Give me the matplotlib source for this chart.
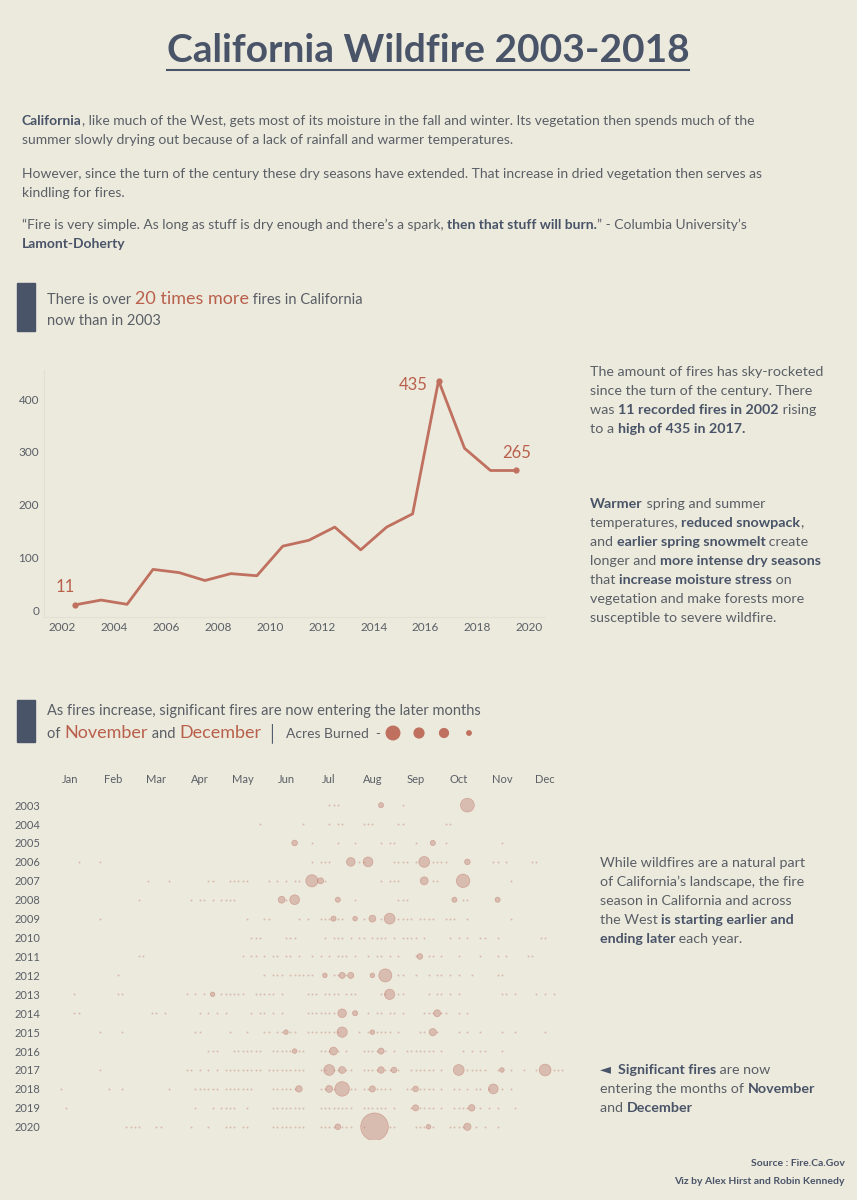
import matplotlib.pyplot as plt
import numpy as np
from matplotlib.patches import Rectangle

plt.rcParams['font.family'] = ['Lato', 'DejaVu Sans']

BG = '#ECEADD'
DARK = '#4A5468'
TXT = '#5A5F66'
ACC = '#B9604C'
LINE = '#C0705F'
DOT = '#C4847A'

# ---- data: fires per year (line chart)
years = [2002, 2003, 2004, 2005, 2006, 2007, 2008, 2009, 2010,
         2011, 2012, 2013, 2014, 2015, 2016, 2017, 2018, 2019]
fires = [11, 20, 12, 78, 72, 57, 70, 66, 122,
         133, 158, 115, 158, 183, 435, 307, 265, 265]

# ---- data: significant fires, position in month units (1=Jan), small ones
small_fires = {
    2003: [7.0, 7.1, 7.2, 8.7],
    2004: [5.4, 6.4, 7.0, 7.2, 7.3, 7.8, 7.9, 8.0, 8.6, 8.7, 9.7, 9.8],
    2005: [6.6, 7.2, 7.6, 8.2, 8.4, 8.5, 9.0, 9.7, 11.0],
    2006: [1.2, 1.7, 6.6, 6.8, 6.9, 7.0, 7.7, 7.8, 8.5, 8.6, 8.7, 8.8, 9.0,
           9.4, 9.5, 9.6, 9.7, 10.8, 10.9, 11.1, 11.7, 11.8],
    2007: [2.8, 3.3, 4.2, 4.3, 4.7, 4.8, 4.9, 5.0, 5.1, 5.6, 5.8, 6.0, 6.2,
           6.3, 6.9, 8.2, 8.4, 8.5, 8.6, 9.4, 9.5, 11.2],
    2008: [2.6, 3.8, 4.0, 4.1, 4.3, 4.5, 4.6, 4.7, 4.8, 6.0, 7.6, 8.6, 8.7,
           8.8, 10.1, 10.2],
    2009: [1.7, 5.1, 5.5, 5.6, 6.3, 6.5, 6.8, 6.9, 7.0, 7.2, 7.3, 7.8, 8.2,
           8.6, 8.7, 8.8, 8.9, 9.1, 9.2, 9.3, 9.4, 9.7, 9.8, 9.9, 10.2, 11.2],
    2010: [5.2, 5.3, 5.4, 6.0, 6.1, 6.2, 6.9, 7.1, 7.2, 7.3, 7.5, 7.7, 7.8,
           8.0, 8.1, 8.2, 8.3, 8.5, 8.7, 8.8, 8.9, 9.0, 9.2, 9.8, 10.0,
           10.2, 10.5, 10.6, 10.9, 11.9, 12.0],
    2011: [2.6, 2.7, 5.0, 5.2, 5.3, 5.5, 5.7, 5.8, 6.0, 6.1, 6.3, 6.6, 6.8,
           7.0, 7.2, 7.3, 7.4, 7.6, 7.9, 8.1, 8.2, 8.4, 8.6, 9.0, 9.3, 9.4,
           9.6, 10.0, 10.5, 10.9, 11.1, 11.6, 11.7],
    2012: [2.1, 5.5, 5.7, 5.8, 5.9, 6.1, 6.2, 6.3, 6.4, 6.5, 6.6, 7.1, 7.2,
           7.4, 8.6, 8.7, 9.0, 9.3, 9.5, 9.6, 9.8, 10.0, 10.3, 10.9, 11.0],
    2013: [1.1, 2.1, 2.2, 3.7, 3.9, 4.1, 4.5, 4.6, 4.7, 4.8, 4.9, 5.0, 5.3,
           5.4, 5.5, 5.6, 5.7, 5.9, 6.5, 6.6, 6.7, 6.9, 7.0, 7.1, 7.2, 7.4,
           7.5, 7.6, 8.2, 8.3, 8.6, 8.7, 9.3, 9.5, 9.6, 9.8, 10.0, 11.0,
           11.1, 11.3, 11.8, 12.0, 12.2],
    2014: [1.1, 1.2, 2.9, 3.0, 3.2, 4.0, 4.2, 4.4, 4.6, 5.2, 5.4, 5.5, 5.7,
           5.9, 6.5, 6.6, 6.7, 6.8, 6.9, 7.0, 7.1, 7.9, 8.1, 8.2, 8.4, 8.5,
           8.7, 9.2, 9.3, 9.4, 9.6, 9.7, 10.0, 10.2],
    2015: [1.7, 2.2, 3.9, 4.0, 4.7, 5.1, 5.5, 5.6, 5.8, 5.9, 6.1, 6.2, 6.5,
           6.6, 6.7, 6.8, 6.9, 7.0, 7.1, 7.2, 7.7, 7.9, 8.1, 8.2, 8.3, 8.4,
           8.6, 9.1, 9.2, 9.5, 10.0, 10.2, 10.5, 11.0, 11.3, 12.0],
    2016: [4.2, 4.3, 4.4, 4.8, 4.9, 5.0, 5.1, 5.2, 5.3, 5.4, 5.7, 5.8, 5.9,
           6.0, 6.1, 6.3, 6.4, 6.8, 6.9, 7.0, 7.2, 7.4, 7.8, 7.9, 8.0, 8.1,
           8.3, 8.5, 8.8, 8.9, 9.0, 9.1, 9.2, 9.3, 9.4, 9.6, 10.1, 10.3,
           10.5, 10.6, 11.0],
    2017: [1.7, 3.7, 3.8, 4.0, 4.2, 4.4, 4.6, 4.7, 4.8, 4.9, 5.0, 5.1, 5.2,
           5.3, 5.4, 5.6, 5.7, 5.8, 5.9, 6.0, 6.1, 6.2, 6.3, 6.4, 6.8, 6.9,
           7.1, 7.2, 7.4, 7.5, 7.8, 7.9, 8.0, 8.1, 8.3, 8.4, 8.6, 8.9, 9.0,
           9.1, 9.2, 9.3, 9.4, 9.6, 10.2, 10.3, 10.4, 10.5, 10.6, 10.9, 11.2,
           11.5, 11.8, 12.2, 12.3, 12.4],
    2018: [0.8, 1.9, 2.2, 3.3, 3.9, 4.0, 4.1, 4.2, 4.3, 4.4, 4.6, 4.7, 4.8,
           4.9, 5.0, 5.1, 5.2, 5.7, 5.8, 5.9, 6.0, 6.1, 6.2, 6.8, 6.9, 7.1,
           7.5, 7.6, 7.8, 7.9, 8.1, 8.2, 8.3, 8.4, 8.8, 8.9, 9.1, 9.2, 9.3,
           9.4, 9.6, 9.9, 10.0, 10.2, 10.4, 10.5, 10.7, 11.0, 11.2],
    2019: [0.9, 3.9, 4.3, 4.5, 4.6, 4.7, 4.8, 5.1, 5.7, 5.8, 5.9, 6.0, 6.1,
           6.2, 6.3, 6.4, 6.8, 6.9, 7.0, 7.1, 7.2, 7.3, 7.4, 7.5, 7.8, 7.9,
           8.0, 8.1, 8.2, 8.3, 8.5, 8.9, 9.1, 9.2, 9.3, 9.4, 9.6, 9.9, 10.0,
           10.1, 10.2, 10.5, 10.7, 10.9, 11.3],
    2020: [2.3, 2.4, 2.5, 2.6, 3.0, 3.1, 3.8, 4.2, 4.6, 4.7, 4.8, 5.0, 5.1,
           5.7, 5.8, 5.9, 6.0, 6.1, 6.2, 6.3, 6.4, 6.8, 6.9, 7.0, 7.1, 7.3,
           7.4, 7.5, 7.8, 8.4, 8.5, 9.0, 9.1, 9.2, 9.4, 9.8, 9.9, 10.0,
           10.1, 10.4, 10.6, 10.9],
}

# larger fires: (year, month position, relative acres burned)
big_years = [2003, 2003, 2005, 2005, 2006, 2006, 2006, 2006, 2007, 2007, 2007,
             2007, 2008, 2008, 2008, 2008, 2008, 2009, 2009, 2009, 2009, 2011,
             2012, 2012, 2012, 2012, 2012, 2013, 2013, 2014, 2014, 2014, 2015,
             2015, 2015, 2015, 2016, 2016, 2016, 2017, 2017, 2017, 2017, 2017,
             2017, 2017, 2018, 2018, 2018, 2018, 2018, 2018, 2019, 2019, 2020,
             2020, 2020, 2020]
big_pos = [10.2, 8.2, 6.2, 9.4, 7.5, 7.9, 9.2, 10.2, 6.6, 6.8, 9.2, 10.1,
           5.9, 6.2, 7.2, 9.9, 10.9, 7.1, 7.6, 8.0, 8.4, 9.1,
           6.9, 7.3, 7.5, 8.0, 8.3, 4.3, 8.4, 7.3, 7.6, 9.5, 6.0,
           7.3, 8.0, 9.4, 6.2, 7.1, 8.2, 7.0, 7.3, 8.2, 8.5, 10.0,
           12.0, 11.0, 6.3, 7.0, 7.3, 8.0, 9.0, 10.8, 9.0, 10.3, 7.2,
           8.05, 9.3, 10.2]
big_acres = [180, 25, 30, 25, 70, 90, 110, 30, 140, 35, 60, 170,
             45, 90, 25, 25, 25, 25, 20, 45, 110, 30,
             20, 35, 35, 20, 160, 20, 100, 70, 25, 45, 20,
             100, 20, 50, 20, 60, 35, 110, 45, 40, 30, 110,
             130, 20, 40, 45, 200, 35, 30, 90, 35, 40, 30,
             720, 20, 50]

fig = plt.figure(figsize=(8.57, 12), dpi=100, facecolor=BG)

# overlay in pixel coordinates for texts and decorations
ov = fig.add_axes([0, 0, 1, 1], zorder=5)
ov.set_xlim(0, 857)
ov.set_ylim(1200, 0)
ov.axis('off')
ov.patch.set_alpha(0)
renderer = fig.canvas.get_renderer()


def rich(x, y, parts, size=10.5):
    # parts: list of (text, color, weight, size or None)
    for text, color, weight, sz in parts:
        t = ov.text(x, y, text, color=color, fontweight=weight,
                    fontsize=sz or size, va='baseline', ha='left')
        x += t.get_window_extent(renderer).width


# title
t = ov.text(428, 62, 'California Wildfire 2003-2018', ha='center', va='baseline',
            fontsize=28, fontweight='bold', color=DARK)
bb = t.get_window_extent(renderer)
ov.plot([428 - bb.width / 2, 428 + bb.width / 2], [70, 70], color=DARK, lw=1.5)

N, B = 'normal', 'bold'
intro = [
    (125, [('California', DARK, B, None), (', like much of the West, gets most of its moisture in the fall and winter. Its vegetation then spends much of the', TXT, N, None)]),
    (144, [('summer slowly drying out because of a lack of rainfall and warmer temperatures.', TXT, N, None)]),
    (178, [('However, since the turn of the century these dry seasons have extended. That increase in dried vegetation then serves as', TXT, N, None)]),
    (197, [('kindling for fires.', TXT, N, None)]),
    (229, [('\u201cFire is very simple. As long as stuff is dry enough and there\u2019s a spark, ', TXT, N, None), ('then that stuff will burn.', DARK, B, None), ('\u201d - Columbia University\u2019s', TXT, N, None)]),
    (248, [('Lamont-Doherty', DARK, B, None)]),
]
for y, parts in intro:
    rich(22, y, parts, size=10)

# section headers
ov.add_patch(Rectangle((17, 283), 18, 48, color=DARK))
rich(47, 304, [('There is over ', TXT, N, None), ('20 times more', ACC, N, 13), (' fires in California', TXT, N, None)], size=10.5)
rich(47, 325, [('now than in 2003', TXT, N, None)], size=10.5)

ov.add_patch(Rectangle((17, 700), 18, 42, color=DARK))
rich(47, 715, [('As fires increase, significant fires are now entering the later months', TXT, N, None)], size=10.5)
rich(47, 738, [('of ', TXT, N, None), ('November', ACC, N, 13), (' and ', TXT, N, None), ('December', ACC, N, 13),
               (' \u2502', DARK, N, 13), ('  Acres Burned  -', TXT, N, 10)], size=10.5)
ov.scatter([393, 419, 444, 469], [733, 733, 733, 733], s=[95, 50, 40, 10], color=LINE, zorder=6)

# right side texts
right1 = [
    (376, [('The amount of fires has sky-rocketed', TXT, N, None)]),
    (395, [('since the turn of the century. There', TXT, N, None)]),
    (414, [('was ', TXT, N, None), ('11 recorded fires in 2002', DARK, B, None), (' rising', TXT, N, None)]),
    (433, [('to a ', TXT, N, None), ('high of 435 in 2017.', DARK, B, None)]),
    (508, [('Warmer', DARK, B, None), (' spring and summer', TXT, N, None)]),
    (527, [('temperatures, ', TXT, N, None), ('reduced snowpack', DARK, B, None), (',', TXT, N, None)]),
    (546, [('and ', TXT, N, None), ('earlier spring snowmelt', DARK, B, None), (' create', TXT, N, None)]),
    (565, [('longer and ', TXT, N, None), ('more intense dry seasons', DARK, B, None)]),
    (584, [('that ', TXT, N, None), ('increase moisture stress', DARK, B, None), (' on', TXT, N, None)]),
    (603, [('vegetation and make forests more', TXT, N, None)]),
    (622, [('susceptible to severe wildfire.', TXT, N, None)]),
    (867, [('While wildfires are a natural part', TXT, N, None)]),
    (886, [('of California\u2019s landscape, the fire', TXT, N, None)]),
    (905, [('season in California and across', TXT, N, None)]),
    (924, [('the West ', TXT, N, None), ('is starting earlier and', DARK, B, None)]),
    (943, [('ending later', DARK, B, None), (' each year.', TXT, N, None)]),
    (1074, [('\u25c4  ', DARK, N, None), ('Significant fires', DARK, B, None), (' are now', TXT, N, None)]),
    (1093, [('entering the months of ', TXT, N, None), ('November', DARK, B, None)]),
    (1112, [('and ', TXT, N, None), ('December', DARK, B, None)]),
]
for y, parts in right1:
    rich(590 if y < 700 else 600, y, parts, size=10.3)

ov.text(845, 1166, 'Source : Fire.Ca.Gov', ha='right', fontsize=7.5, fontweight='bold', color=DARK)
ov.text(845, 1184, 'Viz by Alex Hirst and Robin Kennedy', ha='right', fontsize=7.5, fontweight='bold', color=DARK)

# ---- line chart
ax = fig.add_axes([44 / 857, 1 - 617 / 1200, 501 / 857, 247 / 1200])
ax.set_facecolor(BG)
xs = np.array(years) + 0.5
ax.plot(xs, fires, color=LINE, lw=2)
ax.scatter([xs[0], xs[14], xs[-1]], [fires[0], fires[14], fires[-1]], s=12, color=LINE, zorder=3)
ax.annotate(str(fires[0]), (xs[0], fires[0]), xytext=(-7, 9), textcoords='offset points',
            color=ACC, fontsize=12, ha='center')
ax.annotate(str(fires[14]), (xs[14], fires[14]), xytext=(-8, -3), textcoords='offset points',
            color=ACC, fontsize=12, ha='right', va='center')
ax.annotate(str(fires[-1]), (xs[-1], fires[-1]), xytext=(0, 9), textcoords='offset points',
            color=ACC, fontsize=12, ha='center')
ax.set_xlim(2001.3, 2020.6)
ax.set_ylim(-12, 455)
ax.set_xticks(range(2002, 2021, 2))
ax.set_yticks([0, 100, 200, 300, 400])
ax.tick_params(colors=TXT, labelsize=8.5, length=0)
for s in ['top', 'right']:
    ax.spines[s].set_visible(False)
for s in ['left', 'bottom']:
    ax.spines[s].set_color('#E2E0D2')

# ---- bubble chart
bx = fig.add_axes([45 / 857, 1 - 1140 / 1200, 520 / 857, 350 / 1200])
bx.set_facecolor(BG)
for yr, pos in small_fires.items():
    bx.scatter(pos, [yr] * len(pos), s=2, color=DOT, alpha=0.45, lw=0)
bx.scatter(big_pos, big_years, s=np.array(big_acres) * 0.55, color=DOT, alpha=0.45,
           edgecolor='#B86A5C', lw=0.5)
bx.set_xlim(0.42, 12.46)
bx.set_ylim(2020.7, 2002.2)
bx.set_xticks(range(1, 13))
bx.set_xticklabels(['Jan', 'Feb', 'Mar', 'Apr', 'May', 'Jun', 'Jul', 'Aug', 'Sep', 'Oct', 'Nov', 'Dec'])
bx.xaxis.tick_top()
bx.set_yticks(range(2003, 2021))
bx.tick_params(colors=TXT, labelsize=8, length=0)
for s in bx.spines.values():
    s.set_visible(False)

fig.savefig('out.png', dpi=100, facecolor=BG)
